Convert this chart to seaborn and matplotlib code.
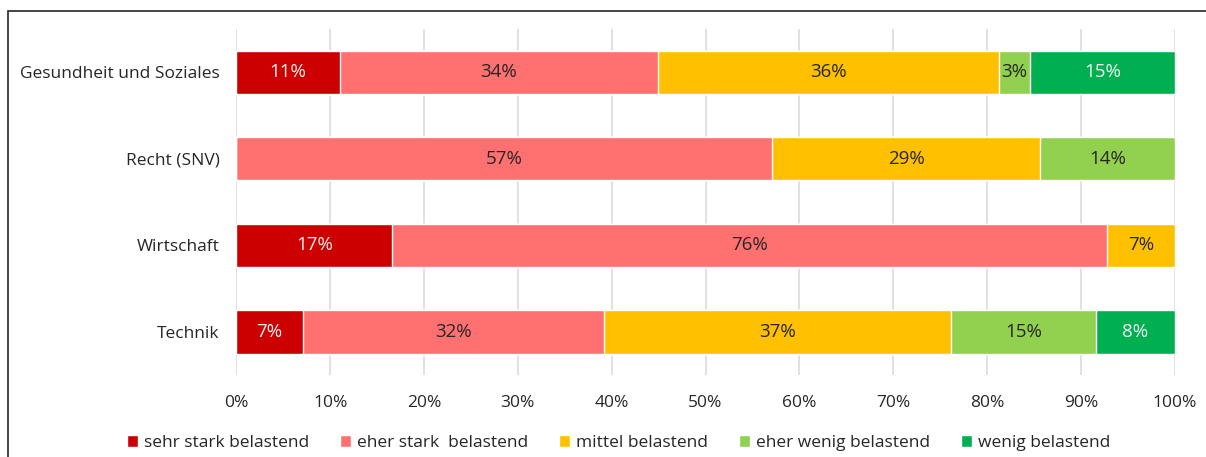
import numpy as np
import pandas as pd
import matplotlib
matplotlib.use("Agg")
import matplotlib.pyplot as plt
import seaborn as sns
from matplotlib.patches import Rectangle

# data (percent shares)
categories = ["Gesundheit und Soziales", "Recht (SNV)", "Wirtschaft", "Technik"]
levels = ["sehr stark belastend", "eher stark  belastend", "mittel belastend",
          "eher wenig belastend", "wenig belastend"]
sehr_stark = [11.0, 0.0, 16.6, 7.1]
eher_stark = [33.9, 57.1, 76.2, 32.1]
mittel = [36.4, 28.6, 7.2, 37.0]
eher_wenig = [3.3, 14.3, 0.0, 15.4]
wenig = [15.4, 0.0, 0.0, 8.4]

colors = ["#CC0000", "#FF7171", "#FFC000", "#92D050", "#00B050"]
text_colors = ["#F2F2F2", "#262626", "#262626", "#262626", "#F2F2F2"]

series = [sehr_stark, eher_stark, mittel, eher_wenig, wenig]
df = pd.DataFrame(dict(zip(levels, series)), index=categories)
cum = df.cumsum(axis=1)

sns.set_style("white")
plt.rcParams["font.family"] = ["Open Sans", "DejaVu Sans"]

fig = plt.figure(figsize=(12.06, 4.57), dpi=100)
ax = fig.add_axes([0.196, 0.179, 0.778, 0.7575])

# stacked bars: draw cumulative totals from the outermost segment inwards
for lvl, col in reversed(list(zip(levels, colors))):
    sns.barplot(x=cum[lvl].values, y=categories, orient="h", color=col,
                width=0.5, saturation=1, ax=ax, label=lvl, zorder=2)

# segment labels
for j, lvl in enumerate(levels):
    for i, cat in enumerate(categories):
        v = df.loc[cat, lvl]
        if v <= 0:
            continue
        left = cum.loc[cat, lvl] - v
        ax.text(left + v / 2, i, f"{v:.0f}%", ha="center", va="center",
                fontsize=13.5, color=text_colors[j], zorder=3)

ax.set_xlim(0, 100)
ax.set_ylim(3.5, -0.5)
ax.set_xticks(np.arange(0, 101, 10))
ax.set_xticklabels([f"{t}%" for t in range(0, 101, 10)])
ax.tick_params(axis="both", length=0, labelsize=12.5, colors="#262626")
ax.tick_params(axis="x", pad=14)
ax.tick_params(axis="y", pad=12)
ax.set_xlabel("")
ax.set_ylabel("")
ax.grid(axis="x", color="#D9D9D9", linewidth=1.1, zorder=0)
ax.set_axisbelow(True)
for s in ax.spines.values():
    s.set_visible(False)

# legend in original order
handles, labels = ax.get_legend_handles_labels()
order = [labels.index(l) for l in levels]
ax.legend([handles[k] for k in order], levels, loc="center", ncol=5,
          bbox_to_anchor=(0.513, 1 - 443 / 457), bbox_transform=fig.transFigure,
          frameon=False, fontsize=12.5, handlelength=0.65, handleheight=0.65,
          handletextpad=0.35, columnspacing=1.75, labelcolor="#262626",
          borderpad=0)

# outer frame (left and top edges visible)
fig.patches.append(Rectangle((8 / 1206, -0.1), 1.2, 1 - 11 / 457 + 0.1,
                             transform=fig.transFigure, fill=False,
                             edgecolor="#262626", linewidth=1.2))

fig.savefig("out.png", dpi=100)
